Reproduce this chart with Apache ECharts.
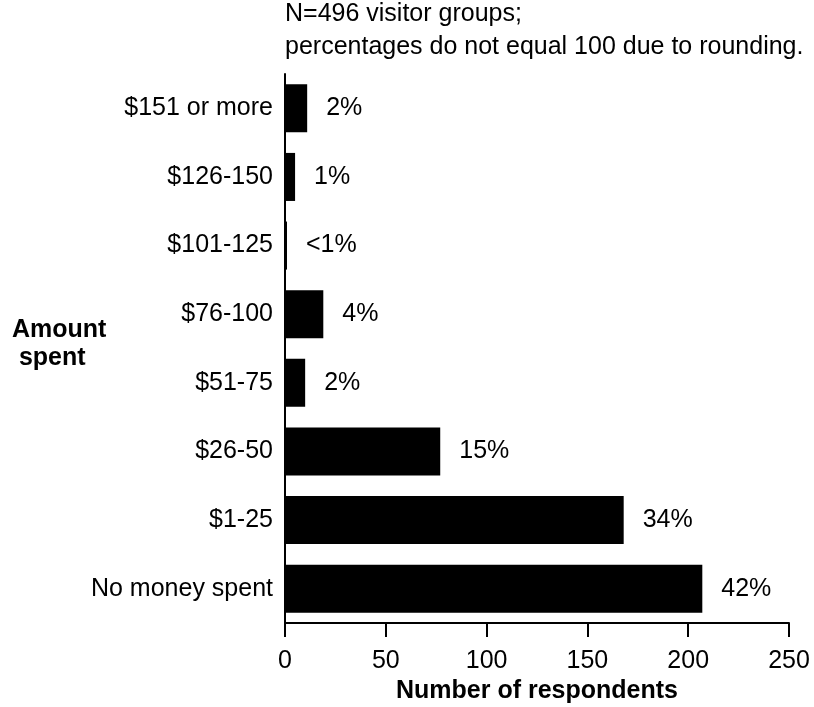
<!DOCTYPE html>
<html>
<head>
<meta charset="utf-8">
<script src="https://cdn.jsdelivr.net/npm/echarts@6/dist/echarts.min.js"></script>
<style>
html,body{margin:0;padding:0;background:#fff;}
#chart{width:814px;height:707px;}
</style>
</head>
<body>
<div id="chart"></div>
<script>
const categories = ["No money spent", "$1-25", "$26-50", "$51-75", "$76-100", "$101-125", "$126-150", "$151 or more"];
const respondents = [207, 168, 77, 10, 19, 1, 5, 11];
const percentLabels = ["42%", "34%", "15%", "2%", "4%", "<1%", "1%", "2%"];
const xTicks = [0, 50, 100, 150, 200, 250];

const FONT = "'Liberation Sans', Arial, sans-serif";
const chart = echarts.init(document.getElementById('chart'), null, {renderer: 'canvas'});
chart.setOption({
  animation: false,
  backgroundColor: '#ffffff',
  textStyle: {fontFamily: FONT},
  title: [{
    text: 'N=496 visitor groups;\npercentages do not equal 100 due to rounding.',
    left: 285, top: -2, padding: 0,
    textStyle: {fontFamily: FONT, fontSize: 25, fontWeight: 'normal', color: '#000', lineHeight: 33}
  }, {
    text: 'Amount\n spent',
    left: 12, top: 316, padding: 0,
    textStyle: {fontFamily: FONT, fontSize: 25, fontWeight: 'bold', color: '#000', lineHeight: 28}
  }],
  grid: {left: 285, right: 25, top: 74, bottom: 84, containLabel: false, outerBoundsMode: 'none'},
  xAxis: {
    type: 'value',
    min: xTicks[0], max: xTicks[xTicks.length - 1], interval: 50,
    name: 'Number of respondents',
    nameLocation: 'middle', nameGap: 53,
    nameTextStyle: {fontFamily: FONT, fontSize: 25, fontWeight: 'bold', color: '#000'},
    axisLine: {show: true, lineStyle: {color: '#000', width: 2}},
    axisTick: {show: true, length: 14, lineStyle: {color: '#000', width: 2}},
    axisLabel: {margin: 26, fontFamily: FONT, fontSize: 25, color: '#000'},
    splitLine: {show: false}
  },
  yAxis: {
    type: 'category',
    data: categories,
    axisLine: {show: true, lineStyle: {color: '#000', width: 2}},
    axisTick: {show: false},
    axisLabel: {margin: 12, fontFamily: FONT, fontSize: 25, color: '#000'},
    splitLine: {show: false}
  },
  series: [{
    type: 'bar',
    data: respondents,
    barCategoryGap: '30%',
    itemStyle: {color: '#000'},
    label: {
      show: true, position: 'right', distance: 19,
      fontFamily: FONT, fontSize: 25, color: '#000',
      formatter: p => percentLabels[p.dataIndex]
    }
  }]
});
</script>
</body>
</html>
